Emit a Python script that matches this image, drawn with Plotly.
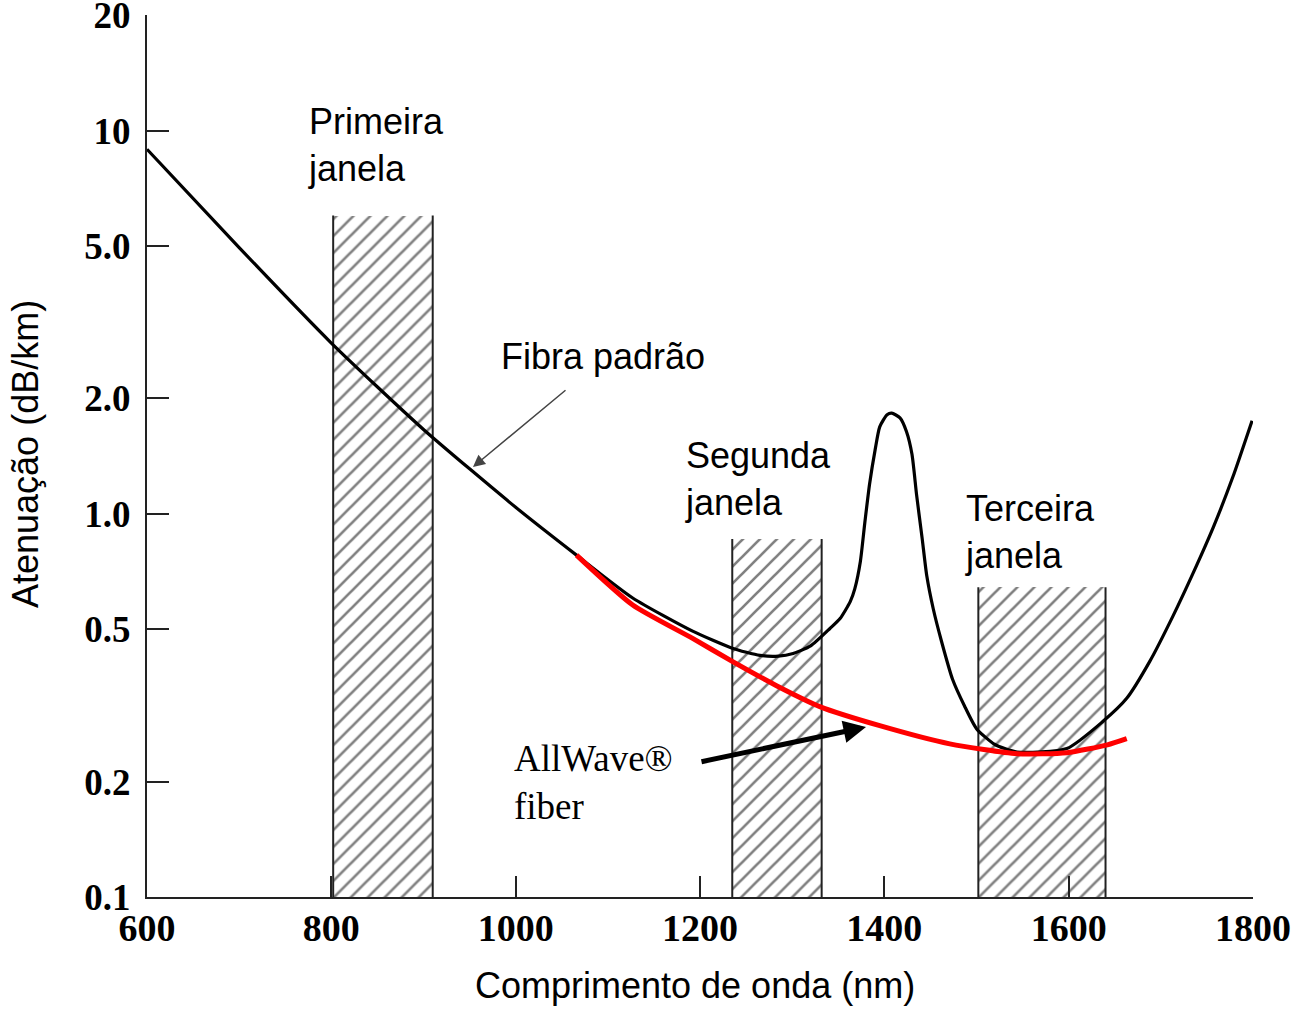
import plotly.graph_objects as go

# ---------------- data ----------------
# Standard fibre ("Fibra padrão") attenuation, dB/km
std_nm = [600, 700, 800, 900, 1000, 1066, 1127, 1192, 1235, 1265, 1285, 1301, 1320, 1341,
          1352, 1363, 1368, 1374, 1379, 1384, 1390, 1395, 1403, 1408, 1417, 1424, 1430,
          1435, 1441, 1446, 1453, 1462, 1474, 1487, 1500, 1520, 1544, 1598, 1637, 1663, 1688,
          1713, 1735, 1757, 1778, 1799]
std_att = [8.94, 4.95, 2.79, 1.66, 1.04, 0.78, 0.603, 0.494, 0.446, 0.427, 0.425, 0.432, 0.452, 0.502,
           0.533, 0.59, 0.638, 0.751, 0.956, 1.196, 1.468, 1.686, 1.813, 1.83, 1.78, 1.64, 1.43,
           1.12, 0.864, 0.69, 0.566, 0.465, 0.37, 0.315, 0.275, 0.25, 0.239, 0.244, 0.287, 0.33, 0.412,
           0.54, 0.70, 0.923, 1.245, 1.75]

# AllWave fibre attenuation, dB/km
aw_nm = [1066, 1127, 1192, 1235, 1283, 1330, 1395, 1471, 1544, 1598, 1642, 1663]
aw_att = [0.78, 0.578, 0.473, 0.412, 0.356, 0.314, 0.28, 0.251, 0.2366, 0.238, 0.2495, 0.259]

# Transmission windows
win_names = ["Primeira\njanela", "Segunda\njanela", "Terceira\njanela"]
win_start = [802, 1235, 1502]
win_end = [910, 1332, 1640]
win_top = [6.0, 0.86, 0.643]
win_base = 0.1

x_ticks = [600, 800, 1000, 1200, 1400, 1600, 1800]
y_ticks = [0.1, 0.2, 0.5, 1, 2, 5, 10, 20]
y_tick_text = ["0.1", "0.2", "0.5", "1.0", "2.0", "5.0", "10", "20"]

x_title = "Comprimento de onda (nm)"
y_title = "Atenuação (dB/km)"

# ---------------- layout geometry ----------------
W, H = 1293, 1009
L, R, T, B = 147, 1253, 15, 897  # plot area in window pixels


def px(x):
    return (x - L) / (R - L)


def py(y):
    return (B - y) / (B - T)


SANS = "Liberation Sans"
SERIF = "Liberation Serif"
INK = "#222222"
FS = 36

fig = go.Figure()

# hatched windows
for s, e, t in zip(win_start, win_end, win_top):
    fig.add_trace(go.Bar(
        x=[(s + e) / 2], y=[t - win_base], base=[win_base], width=[e - s],
        marker=dict(color="white", line=dict(width=0),
                    pattern=dict(shape="/", size=12, solidity=0.22,
                                 fgcolor="black", bgcolor="white")),
        showlegend=False, hoverinfo="skip"))
    for xe in (s, e):
        fig.add_trace(go.Scatter(x=[xe, xe], y=[win_base, t], mode="lines",
                                 line=dict(color=INK, width=2),
                                 showlegend=False, hoverinfo="skip"))

# curves
fig.add_trace(go.Scatter(x=std_nm, y=std_att, mode="lines",
                         line=dict(color="black", width=3.2, shape="spline", smoothing=0.6),
                         name="Fibra padrão", showlegend=False))
fig.add_trace(go.Scatter(x=aw_nm, y=aw_att, mode="lines",
                         line=dict(color="#ff0000", width=5, shape="spline", smoothing=0.6),
                         name="AllWave® fiber", showlegend=False))

ann = []
# window labels
label_pos = [(306, 99), (683, 433), (963, 486)]
for name, (lx, ly) in zip(win_names, label_pos):
    ann.append(dict(xref="paper", yref="paper", x=px(lx), y=py(ly),
                    xanchor="left", yanchor="top", align="left", showarrow=False,
                    text=name.replace("\n", "<br>"),
                    font=dict(family=SANS, size=FS, color="black")))
# Fibra padrão label + arrow
ann.append(dict(xref="paper", yref="paper", x=px(499), y=py(334), xanchor="left", yanchor="top",
                showarrow=False, text="Fibra padrão",
                font=dict(family=SANS, size=FS, color="black")))
ann.append(dict(xref="paper", yref="paper", x=px(473), y=py(467), text="", showarrow=True,
                axref="pixel", ayref="pixel", ax=94, ay=-78,
                arrowhead=2, arrowsize=1.6, arrowwidth=1.5, arrowcolor="#444444"))
# AllWave label + arrow
ann.append(dict(xref="paper", yref="paper", x=px(512), y=py(736), xanchor="left", yanchor="top",
                align="left", showarrow=False, text="AllWave®<br>fiber",
                font=dict(family=SERIF, size=37, color="black")))
ann.append(dict(xref="paper", yref="paper", x=px(866), y=py(727), text="", showarrow=True,
                axref="pixel", ayref="pixel", ax=-166, ay=35,
                arrowhead=2, arrowsize=0.9, arrowwidth=5, arrowcolor="black"))
# axis titles
ann.append(dict(xref="paper", yref="paper", x=px(695), y=py(963), xanchor="center", yanchor="top",
                showarrow=False, text=x_title, font=dict(family=SANS, size=FS, color="black")))
ann.append(dict(xref="paper", yref="paper", x=px(26), y=py(454), xanchor="center", yanchor="middle",
                showarrow=False, text=y_title, textangle=-90,
                font=dict(family=SANS, size=FS, color="black")))

fig.update_layout(
    width=W, height=H,
    margin=dict(l=L, r=W - R, t=T, b=H - B, autoexpand=False),
    paper_bgcolor="white", plot_bgcolor="white",
    showlegend=False, bargap=0, barmode="overlay",
    annotations=ann,
    xaxis=dict(range=[600, 1800], tickvals=x_ticks, ticktext=[str(v) for v in x_ticks],
               automargin=False, ticklabeloverflow="allow",
               showgrid=False, zeroline=False, showline=True, linecolor=INK, linewidth=2,
               ticks="inside", ticklen=21, tickwidth=2, tickcolor=INK,
               ticklabelstandoff=-4,
               tickfont=dict(family=SERIF, size=38, color="black", weight="bold")),
    yaxis=dict(type="log", range=[-1, 1.3016], tickvals=y_ticks, ticktext=y_tick_text,
               automargin=False, ticklabeloverflow="allow",
               showgrid=False, zeroline=False, showline=True, linecolor=INK, linewidth=2,
               ticks="inside", ticklen=22, tickwidth=2, tickcolor=INK,
               ticklabelstandoff=7,
               tickfont=dict(family=SERIF, size=37, color="black", weight="bold")),
)

# remove the default page margin so the figure fills the window exactly
fig.write_html("out.html", config={"displayModeBar": False},
               post_script="document.body.style.margin='0';document.body.style.overflow='hidden';")
